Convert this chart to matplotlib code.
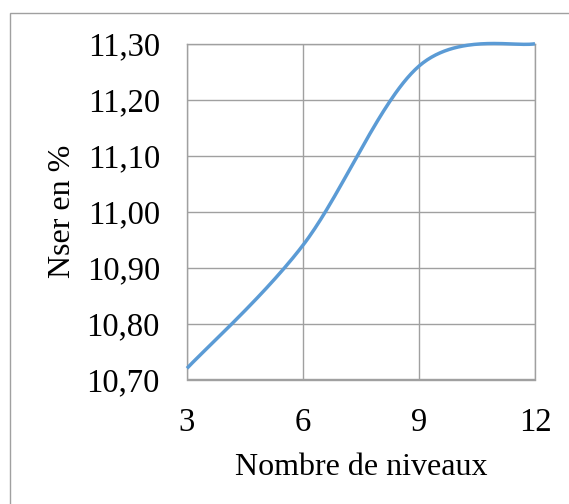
import numpy as np
import matplotlib
matplotlib.use("Agg")
import matplotlib.pyplot as plt
from matplotlib.patches import Rectangle

# ===== Données =====
niveaux = [3, 6, 9, 12]
nser = [10.72, 10.94, 11.26, 11.30]
yticks = [10.70, 10.80, 10.90, 11.00, 11.10, 11.20, 11.30]
xticks = [3, 6, 9, 12]

LINE_COLOR = "#5B9BD5"
GRID_COLOR = "#A0A0A0"
FONT = "Liberation Serif"


def lissage_excel(x, y, n=60):
    """Courbe lissée façon Excel (Bézier cubique type Catmull-Rom)."""
    x = np.asarray(x, float)
    y = np.asarray(y, float)
    pts = np.column_stack([x, y])
    ext = np.vstack([pts[0], pts, pts[-1]])
    out = []
    t = np.linspace(0, 1, n)[:, None]
    for i in range(len(pts) - 1):
        p0, p1, p2, p3 = ext[i], ext[i + 1], ext[i + 2], ext[i + 3]
        c1 = p1 + (p2 - p0) / 6
        c2 = p2 - (p3 - p1) / 6
        seg = ((1 - t) ** 3) * p1 + 3 * ((1 - t) ** 2) * t * c1 \
            + 3 * (1 - t) * t ** 2 * c2 + t ** 3 * p2
        out.append(seg if i == 0 else seg[1:])
    out = np.vstack(out)
    return out[:, 0], out[:, 1]


fig = plt.figure(figsize=(5.69, 5.04), dpi=100)
ax = fig.add_axes([187 / 569, 1 - 379.5 / 504, (535 - 187) / 569, (379.5 - 43.7) / 504])

xs, ys = lissage_excel(niveaux, nser)
ax.plot(xs, ys, color=LINE_COLOR, lw=2.5, solid_capstyle="butt", zorder=3, clip_on=False)

ax.set_xlim(3, 12)
ax.set_ylim(10.70, 11.30)
ax.set_xticks(xticks)
ax.set_yticks(yticks)
ax.set_xticklabels([str(v) for v in xticks])
ax.set_yticklabels([f"{v:.2f}".replace(".", ",") for v in yticks])
ax.grid(True, color=GRID_COLOR, lw=1.0)
ax.set_axisbelow(True)
for s in ax.spines.values():
    s.set_color(GRID_COLOR)
    s.set_linewidth(1.0)

ax.tick_params(axis="both", length=0, labelsize=23.5)
ax.tick_params(axis="x", pad=20)
ax.tick_params(axis="y", pad=19.5)
for lab in ax.get_xticklabels() + ax.get_yticklabels():
    lab.set_fontfamily(FONT)

ax.set_xlabel("Nombre de niveaux", fontsize=23, fontfamily=FONT, labelpad=11)
ax.set_ylabel("Nser en %", fontsize=23, fontfamily=FONT, labelpad=7)

# cadre de la zone de graphique (coupé à droite et en bas)
fig.add_artist(Rectangle((10 / 569, -0.5), 2, 1 - 12.7 / 504 + 0.5,
                         transform=fig.transFigure, fill=False,
                         edgecolor=GRID_COLOR, lw=1.0))

fig.savefig("out.png", dpi=100)
